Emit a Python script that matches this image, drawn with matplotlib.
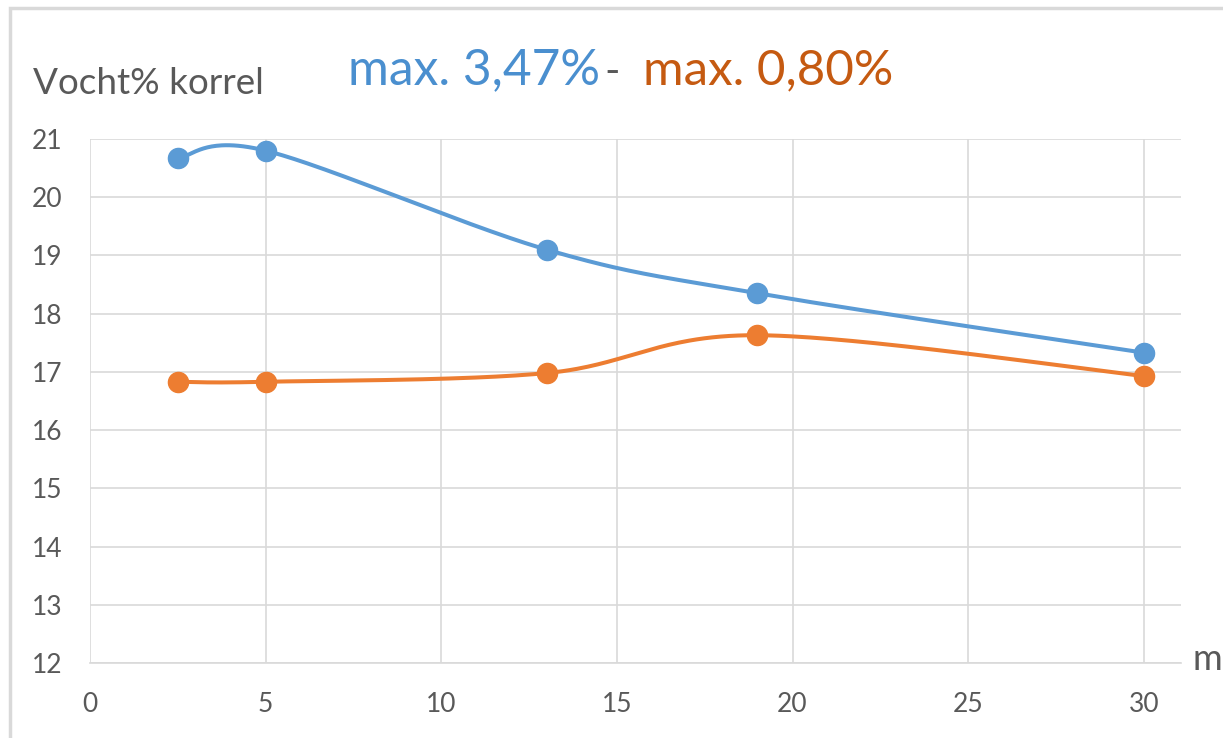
import numpy as np
import matplotlib
matplotlib.use("Agg")
import matplotlib.pyplot as plt
from matplotlib.patches import Rectangle

# Measurement times (minutes) and moisture % of the kernel
minutes = [2.5, 5, 13, 19, 30]
series_a = [20.67, 20.80, 19.10, 18.35, 17.33]
series_b = [16.83, 16.83, 16.98, 17.63, 16.93]

x_ticks = [0, 5, 10, 15, 20, 25, 30]
y_ticks = [12, 13, 14, 15, 16, 17, 18, 19, 20, 21]

BLUE = "#5B9BD5"
ORANGE = "#ED7D31"
GRID = "#D9D9D9"
TXT = "#595959"

plt.rcParams["font.family"] = ["Lato", "DejaVu Sans"]

W, H = 1223, 738


def smooth(xs, ys, n=60):
    """Catmull-Rom style cubic Bezier smoothing through all points."""
    pts = np.column_stack([np.asarray(xs, float), np.asarray(ys, float)])
    out = []
    m = len(pts)
    for i in range(m - 1):
        p0 = pts[max(i - 1, 0)]
        p1 = pts[i]
        p2 = pts[i + 1]
        p3 = pts[min(i + 2, m - 1)]
        c1 = p1 + (p2 - p0) / 6.0
        c2 = p2 - (p3 - p1) / 6.0
        t = np.linspace(0, 1, n)[:, None]
        seg = ((1 - t) ** 3) * p1 + 3 * ((1 - t) ** 2) * t * c1 + 3 * (1 - t) * t ** 2 * c2 + t ** 3 * p2
        out.append(seg if i == 0 else seg[1:])
    seg = np.vstack(out)
    return seg[:, 0], seg[:, 1]


fig = plt.figure(figsize=(W / 100, H / 100), dpi=100)
ax = fig.add_axes([90 / W, 1 - 663 / H, (1181 - 90) / W, (663 - 139) / H])

for ys, col in ((series_a, BLUE), (series_b, ORANGE)):
    sx, sy = smooth(minutes, ys)
    ax.plot(sx, sy, color=col, lw=2.9, solid_capstyle="round", zorder=3)
    ax.plot(minutes, ys, "o", color=col, ms=14.5, zorder=4)

ax.set_xlim(0, 31.06)
ax.set_ylim(12, 21)
ax.set_xticks(x_ticks)
ax.set_yticks(y_ticks)
ax.grid(True, color=GRID, lw=1.2)
ax.set_axisbelow(True)
for side in ("top", "right", "left"):
    ax.spines[side].set_visible(False)
ax.spines["bottom"].set_color(GRID)
ax.spines["bottom"].set_linewidth(1.2)
ax.tick_params(length=0, labelsize=19, labelcolor=TXT)
ax.tick_params(axis="x", pad=21)
ax.tick_params(axis="y", pad=20)

renderer = fig.canvas.get_renderer()


def fitted_text(x, y, s, width_px, color, **kw):
    """Place text at pixel coords and scale its size to span width_px."""
    t = fig.text(x / W, 1 - y / H, s, fontsize=20, color=color, va="center", ha="left", **kw)
    w = t.get_window_extent(renderer).width
    t.set_fontsize(20 * width_px / w)
    return t


# axis titles
fitted_text(33, 84, "Vocht% korrel", 232, TXT)
fig.text(1222 / W, 1 - 660 / H, "m", fontsize=26, color=TXT, va="center", ha="right")

# header with the two spreads
fitted_text(348, 70, "max. 3,47%", 252, "#4A8FCF")
fig.text(612 / W, 1 - 72 / H, "-", fontsize=30, color=TXT, va="center", ha="center")
fitted_text(643, 70, "max. 0,80%", 250, "#C55A11")

# chart frame
fig.patches.append(Rectangle((10 / W, -0.1), 1.2, 1 - 8 / H + 0.1, transform=fig.transFigure,
                             fill=False, edgecolor="#D9D9D9", lw=2.5))

fig.savefig("out.png", dpi=100)
